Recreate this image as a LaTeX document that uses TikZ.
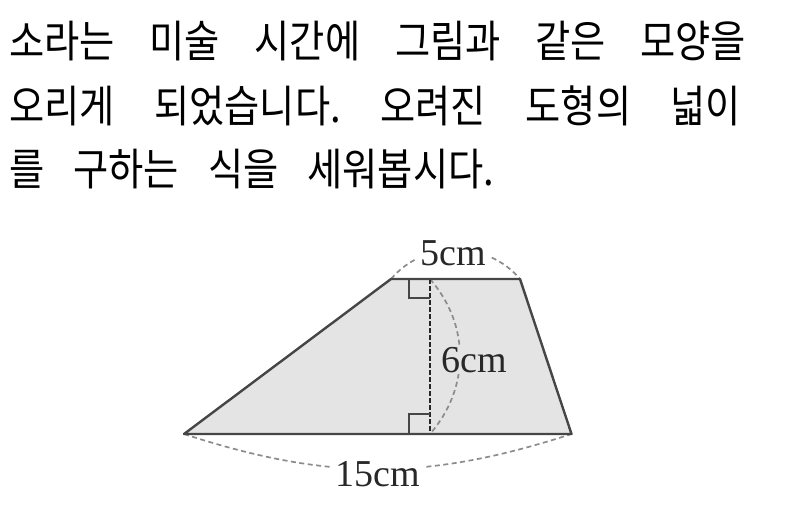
\documentclass[tikz,border=0pt]{standalone}
\usepackage{fontspec}
\setmainfont{Liberation Serif}
\newfontfamily\kr[FakeStretch=0.87]{Noto Sans CJK KR}
\definecolor{shapefill}{RGB}{228,228,228}
\definecolor{edgecol}{RGB}{70,70,70}
\definecolor{arccol}{RGB}{140,140,140}
\definecolor{labcol}{RGB}{40,40,40}
\tikzset{
  qline/.style={anchor=base west, inner sep=0pt, font=\kr\fontsize{44}{44}\selectfont\frenchspacing},
  edge/.style={draw=edgecol, line width=2.4pt, line join=round},
  dimarc/.style={draw=arccol, line width=1.7pt, dash pattern=on 5pt off 3.5pt},
  hline/.style={draw=black!85, line width=1.8pt, dash pattern=on 4.5pt off 2.5pt},
  rmark/.style={draw=edgecol, line width=1.1pt},
  dimlab/.style={inner sep=3pt, anchor=base, text=labcol, font=\fontsize{38}{38}\selectfont}
}
\begin{document}
\begin{tikzpicture}[x=1pt, y=-1pt]
\useasboundingbox (0,0) rectangle (786,530);
% question text
\node[qline] (l1) at (9,57) {\makebox[737pt][s]{소라는 미술 시간에 그림과 같은 모양을}};
\node[qline] (l2) at (9,122) {\makebox[732pt][s]{오리게 되었습니다. 오려진 도형의 넓이}};
\node[qline] (l3) at (9,185) {\spaceskip=29pt\relax 를 구하는 식을 세워봅시다.};
% trapezoid corners
\coordinate (A) at (184,434);
\coordinate (B) at (571.5,434);
\coordinate (C) at (520,279);
\coordinate (D) at (391,279);
\coordinate (T) at (430,279);
\coordinate (H) at (430,434);
\fill[shapefill] (A) -- (B) -- (C) -- (D) -- cycle;
% dimension arcs
\draw[dimarc] (D) .. controls (424,240) and (487,240) .. (C);
\draw[dimarc] (T) .. controls (470,325) and (470,388) .. (H);
\draw[dimarc] (A) .. controls (328,481) and (427,481) .. (B);
% height and right-angle marks
\draw[hline] (T) -- (H);
\draw[rmark] (409,279) -- (409,298) -- (T |- 0,298);
\draw[rmark] (409,434) -- (409,414) -- (H |- 0,414);
\draw[edge] (A) -- (B) -- (C) -- (D) -- cycle;
% labels
\node[dimlab, fill=white] (w5) at (453,265) {5cm};
\node[dimlab, fill=shapefill, inner sep=2pt] (w6) at (474,372) {6cm};
\node[dimlab, fill=white] (w15) at (377.5,486) {15cm};
\end{tikzpicture}
\end{document}
